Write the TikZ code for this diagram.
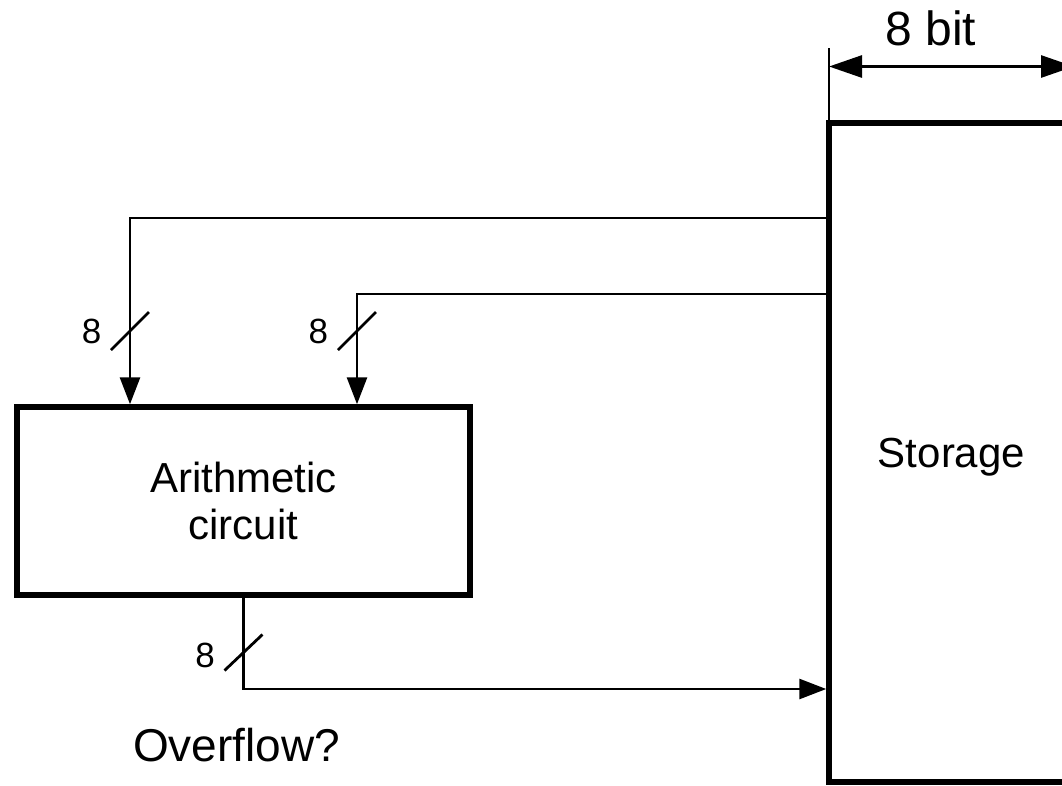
\documentclass[tikz,border=0pt]{standalone}
\usepackage{fontspec}
\setmainfont{Liberation Sans}
\usetikzlibrary{arrows.meta}
\begin{document}
\begin{tikzpicture}[x=1pt,y=-1pt,
  wire/.style={line width=2.8pt},
  block/.style={draw,line width=5.5pt,rectangle,inner sep=0pt},
  tip/.style={-{Triangle[length=27pt,width=20pt]}},
  dimtip/.style={{Triangle[length=33pt,width=22pt]}-{Triangle[length=33pt,width=22pt]}},
  busmark/.style={line width=2.8pt},
  buslabel/.style={font=\fontsize{35}{42}\selectfont,inner sep=0pt},
  big/.style={font=\fontsize{42}{47}\selectfont}]
\useasboundingbox (0,0) rectangle (1062,785);
\clip (0,0) rectangle (1062,785);

% blocks
\node[block,big,minimum width=245pt,minimum height=659pt,text depth=0pt]
  (storage) at (951.5,452.5) {Storage};
\node[block,big,minimum width=453pt,minimum height=188pt,align=center]
  (arith) at (243.5,501) {Arithmetic\\circuit};

% bend points and bus marks
\coordinate (t1) at (130,218);
\coordinate (t2) at (357,294);
\coordinate (o1) at (243.5,689);
\coordinate (s1) at (130,331);
\coordinate (s2) at (357,331);
\coordinate (s3) at (243.5,652.5);

% feedback from storage into the arithmetic circuit
\draw[wire,tip] (storage.west |- t1) -- (t1) -- (t1 |- arith.north);
\draw[wire,tip] (storage.west |- t2) -- (t2) -- (t2 |- arith.north);
% result back into storage
\draw[wire,tip] (arith.south) |- (o1 -| storage.west);

% 8-bit bus marks
\draw[busmark] (s1) ++(-19,19) -- ++(38,-38);
\draw[busmark] (s2) ++(-19,19) -- ++(38,-38);
\draw[busmark] (s3) ++(-19,18) -- ++(38,-36);
\node[buslabel] (n1) at (91.7,331.5) {8};
\node[buslabel] (n2) at (318.3,331.5) {8};
\node[buslabel] (n3) at (205,655) {8};

% width dimension of the storage
\coordinate (d0) at (829,48);
\coordinate (dl) at (829,66.5);
\coordinate (dr) at (1074,66.5);
\draw[wire] (d0) -- (d0 |- storage.north);
\draw[wire,dimtip] (dl) -- (dr);
\node[font=\fontsize{48}{56}\selectfont,anchor=base,inner sep=0pt] (bits) at (931,45) {8 bit};

% question below
\node[font=\fontsize{46}{52}\selectfont,anchor=base,inner sep=0pt] (ovf) at (236.7,761.7) {Overflow?};
\end{tikzpicture}
\end{document}
